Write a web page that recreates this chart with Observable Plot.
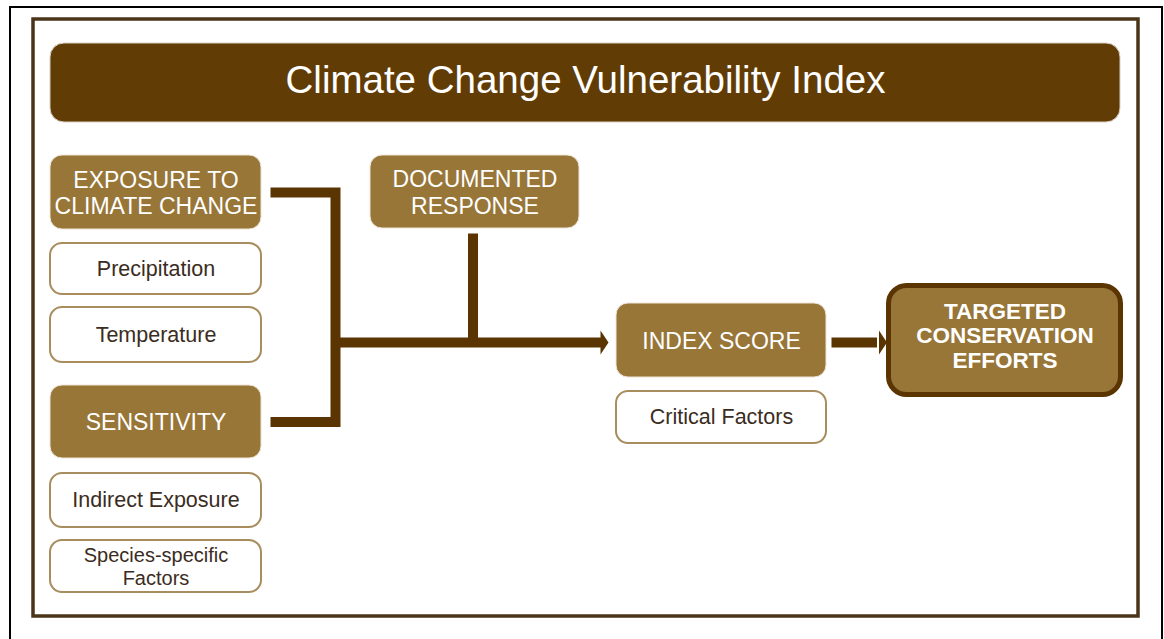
<!DOCTYPE html>
<html><head><meta charset="utf-8">
<script src="https://cdn.jsdelivr.net/npm/d3@7"></script>
<script src="https://cdn.jsdelivr.net/npm/@observablehq/plot@0.6"></script>
<style>html,body{margin:0;padding:0;background:#fff;overflow:hidden}</style>
</head><body><div id="chart"></div>
<script>
// ---------- data (labels only) ----------
const chartTitle = "Climate Change Vulnerability Index";
const driverNodes = ["EXPOSURE TO\nCLIMATE CHANGE", "SENSITIVITY"];
const exposureFactors = ["Precipitation", "Temperature"];
const sensitivityFactors = ["Indirect Exposure", "Species-specific\nFactors"];
const responseNodes = ["DOCUMENTED\nRESPONSE"];
const scoreNodes = ["INDEX SCORE"];
const scoreFactors = ["Critical Factors"];
const outcomeNodes = ["TARGETED\nCONSERVATION\nEFFORTS"];

// ---------- layout (pixel geometry, separate from data) ----------
const W = 1164, H = 639;
const layout = new Map([
  [chartTitle, [50, 43, 1120, 122]],
  [driverNodes[0], [50, 155, 261, 229]],
  [exposureFactors[0], [50, 243, 261, 294]],
  [exposureFactors[1], [50, 307, 261, 362]],
  [driverNodes[1], [50, 385, 261, 458]],
  [sensitivityFactors[0], [50, 473, 261, 527]],
  [sensitivityFactors[1], [50, 540, 261, 592]],
  [responseNodes[0], [370, 155, 579, 228]],
  [scoreNodes[0], [616, 303, 826, 377]],
  [scoreFactors[0], [616, 391, 826, 443]],
  [outcomeNodes[0], [888.5, 285.5, 1120.5, 394.5]]
]);
const trunkX = 335, busY = 342, gap = 9;

const C = {
  dark: "#623c05", line: "#5a3502", mid: "#987638", outline: "#a88d5e",
  frame: "#4b3519", text: "#3b2c22"
};

const box = (label, kind) => {
  const [x1, y1, x2, y2] = layout.get(label);
  return {label, kind, x1, y1, x2, y2, cx: (x1 + x2) / 2, cy: (y1 + y2) / 2};
};
const filled = [...driverNodes, ...responseNodes, ...scoreNodes].map(d => box(d, "filled"));
const outlined = [...exposureFactors, ...sensitivityFactors, ...scoreFactors].map(d => box(d, "outline"));
const outlinedSingle = outlined.filter(d => !d.label.includes("\n"));
const outlinedMulti = outlined.filter(d => d.label.includes("\n"));
const outcome = outcomeNodes.map(d => box(d, "outcome"));
const titleBox = [box(chartTitle, "title")];

// connectors derived from layout
const d0 = box(driverNodes[0]), d1 = box(driverNodes[1]);
const resp = box(responseNodes[0]), score = box(scoreNodes[0]), out = box(outcomeNodes[0]);
const d0y = 192, d1y = 421.5;
const paths = [
  {id: "drivers", pts: [[d0.x2 + gap, d0y], [trunkX, d0y], [trunkX, d1y], [d1.x2 + gap, d1y]]},
  {id: "bus", pts: [[trunkX, busY], [score.x1 - 14, busY]]},
  {id: "response", pts: [[resp.cx - 2, resp.y2 + 5], [resp.cx - 2, busY]]},
  {id: "outcome", pts: [[score.x2 + 5, busY], [out.x1 - 12, busY]]}
].flatMap(p => p.pts.map(([x, y], i) => ({id: p.id, x, y, i})));
const heads = [
  {x: score.x1 - 12, y: busY},
  {x: out.x1 - 6, y: busY}
];
const arrowSymbol = {
  draw(ctx) { ctx.moveTo(4, 0); ctx.lineTo(-4, -12); ctx.lineTo(-4, 12); ctx.closePath(); }
};

const font = "Liberation Sans, Arial, Helvetica, sans-serif";

const plot = Plot.plot({
  width: W, height: H, margin: 0,
  x: {domain: [0, W], range: [0, W], axis: null},
  y: {domain: [0, H], range: [0, H], axis: null},
  style: {background: "#fff"},
  marks: [
    // outer black border (open at bottom)
    Plot.rect([{x1: 10, y1: 7, x2: 1162, y2: H + 20}], {x1: "x1", y1: "y1", x2: "x2", y2: "y2", fill: "none", stroke: "#000", strokeWidth: 2}),
    // brown frame
    Plot.rect([{x1: 33, y1: 19, x2: 1138, y2: 616}], {x1: "x1", y1: "y1", x2: "x2", y2: "y2", fill: "#fff", stroke: C.frame, strokeWidth: 3.5}),
    // title bar
    Plot.rect(titleBox, {x1: "x1", y1: "y1", x2: "x2", y2: "y2", rx: 14, fill: C.dark, stroke: "#d8cfc4", strokeWidth: 1}),
    Plot.text(titleBox, {x: "cx", y: "cy", dy: -2, text: "label", fill: "#fff", fontSize: 38.5, fontFamily: font}),
    // connectors
    Plot.line(paths, {x: "x", y: "y", z: "id", stroke: C.line, strokeWidth: 10, strokeLinejoin: "miter", strokeMiterlimit: 10, strokeLinecap: "butt", curve: "linear"}),
    Plot.dot(heads, {x: "x", y: "y", symbol: arrowSymbol, fill: C.line, stroke: "none", r: 5}),
    // filled boxes
    Plot.rect(filled, {x1: "x1", y1: "y1", x2: "x2", y2: "y2", rx: 12, fill: C.mid, stroke: "#eee4d6", strokeWidth: 1}),
    Plot.text(filled, {x: "cx", y: "cy", text: "label", fill: "#fff", fontSize: 23, lineHeight: 1.15, fontFamily: font}),
    // outcome box
    Plot.rect(outcome, {x1: "x1", y1: "y1", x2: "x2", y2: "y2", rx: 18, fill: C.mid, stroke: C.line, strokeWidth: 5}),
    Plot.text(outcome, {x: "cx", y: "cy", dy: -5, text: "label", fill: "#fff", fontSize: 22.5, fontWeight: "bold", lineHeight: 1.1, fontFamily: font}),
    // outlined factor boxes
    Plot.rect(outlined, {x1: "x1", y1: "y1", x2: "x2", y2: "y2", rx: 12, fill: "#fff", stroke: C.outline, strokeWidth: 2}),
    Plot.text(outlinedSingle, {x: "cx", y: "cy", text: "label", fill: C.text, fontSize: 21.5, fontFamily: font}),
    Plot.text(outlinedMulti, {x: "cx", y: "cy", text: "label", fill: C.text, fontSize: 20, lineHeight: 1.12, fontFamily: font})
  ]
});
document.getElementById("chart").appendChild(plot);
</script>
</body></html>
